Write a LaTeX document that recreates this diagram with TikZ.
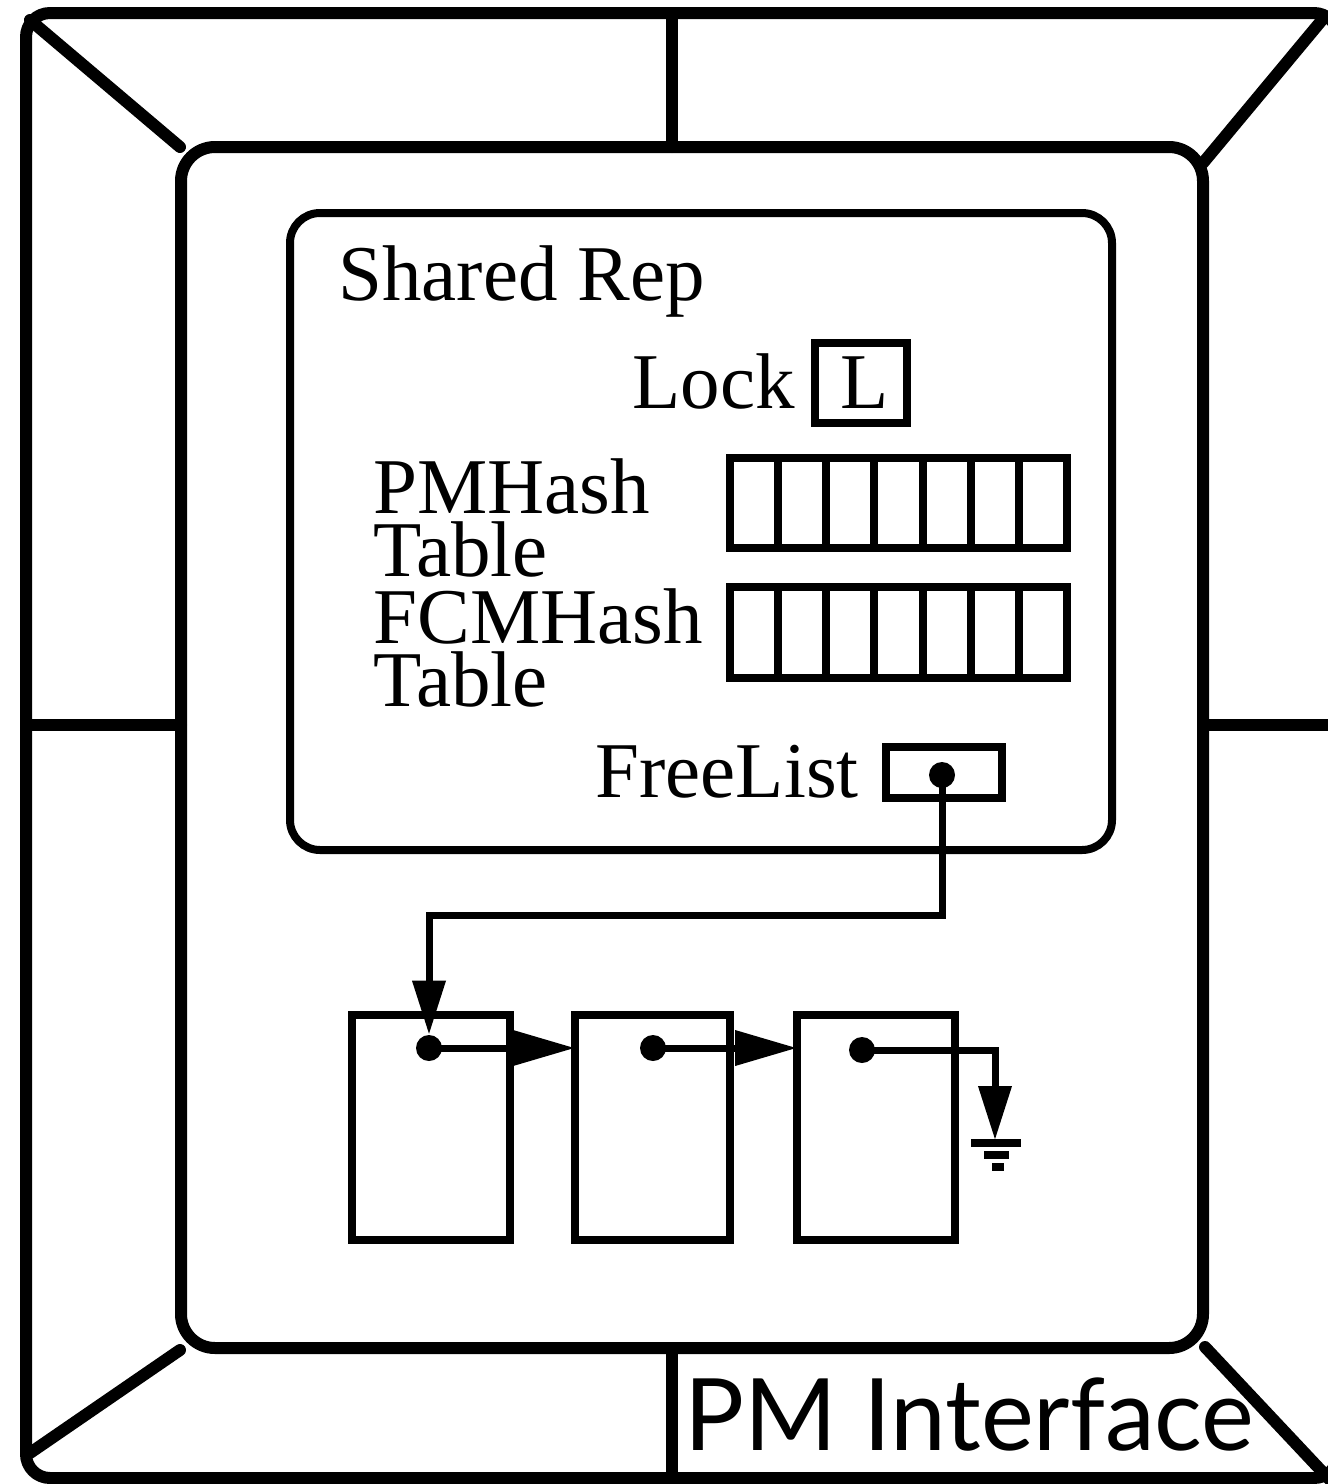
\documentclass[tikz,border=0pt]{standalone}
\usepackage{fontspec}
\setmainfont{Liberation Serif}
\newfontfamily\gillfont{Lato}
\usetikzlibrary{arrows.meta,calc}
\begin{document}
\begin{tikzpicture}[x=0.5pt,y=-0.5pt,
  frame/.style={draw,line width=6pt,line cap=round,line join=round},
  boxln/.style={draw,line width=4pt,inner sep=0pt,outer sep=0pt},
  conn/.style={line width=3.5pt},
  txt/.style={inner sep=0pt,anchor=base west,font=\fontsize{39.5}{40}\selectfont},
  twoline/.style={inner sep=0pt,anchor=north west,align=left,font=\fontsize{39.5}{31.5}\selectfont},
  dotn/.style={circle,fill,inner sep=0pt,minimum size=13pt},
  harrow/.style={-{Triangle[length=31pt,width=17pt]}},
  varrow/.style={-{Triangle[length=27pt,width=16pt]}}
]
\useasboundingbox (0,0) rectangle (1328,1484);
% outer frame
\node[frame,rectangle,rounded corners=12pt,minimum width=656pt,minimum height=732.5pt,inner sep=0pt] (outer) at (682,745.5) {};
% inner box
\node[frame,rectangle,rounded corners=17pt,minimum width=511pt,minimum height=600.5pt,inner sep=0pt] (inner) at (692,747.5) {};
% frame dividers
\draw[frame] (30,20) -- (180,147);
\draw[frame] (1322,20) -- (1203,163);
\draw[frame] (180,1350) -- (30,1453);
\draw[frame] (1205,1347) -- (1330,1480);
\draw[frame] (672,13) -- (672,147);
\draw[frame] (672,1348) -- (672,1478);
\draw[frame] (26,725) -- (181,725);
\draw[frame] (1203,725) -- (1330,725);
% shared rep box
\node[boxln,rectangle,rounded corners=15pt,minimum width=411pt,minimum height=318.5pt] (shared) at (701,531.5) {};
\node[txt] (sharedlbl) at (338,300) {Shared Rep};
\node[txt] (locklbl) at (632,408) {Lock};
\node[boxln,minimum width=46pt,minimum height=40pt] (lockbox) at (861,383) {};
\node[txt] (lockL) at (840,408) {L};
\node[twoline] (pmlbl) at (373,458) {PMHash\\Table};
\node[twoline] (fcmlbl) at (373,588) {FCMHash\\Table};
\node[boxln,minimum width=168.5pt,minimum height=45pt] (pmarr) at (898.5,503) {};
\node[boxln,minimum width=168.5pt,minimum height=45.5pt] (fcmarr) at (898.5,632.5) {};
\foreach \i in {1,...,6}{
  \draw[line width=4pt] ($(pmarr.north west)!\i/7!(pmarr.north east)$) -- ($(pmarr.south west)!\i/7!(pmarr.south east)$);
  \draw[line width=4pt] ($(fcmarr.north west)!\i/7!(fcmarr.north east)$) -- ($(fcmarr.south west)!\i/7!(fcmarr.south east)$);
}
\node[txt] (freelbl) at (595,797) {FreeList};
\node[boxln,minimum width=58pt,minimum height=25.5pt] (freebox) at (944,772.5) {};
\node[dotn] (fdot) at (942,775) {};
% list nodes
\node[boxln,minimum width=79pt,minimum height=112.5pt] (b1) at (431,1127.5) {};
\node[boxln,minimum width=77.5pt,minimum height=112.5pt] (b2) at (652.5,1127.5) {};
\node[boxln,minimum width=79pt,minimum height=112.5pt] (b3) at (876,1127.5) {};
\node[dotn] (d1) at (429,1048) {};
\node[dotn] (d2) at (653,1048) {};
\node[dotn] (d3) at (862,1050) {};
\coordinate (bend) at (942,915);
\coordinate (gnd) at (995,1140);
\draw[conn,varrow] (fdot.center) -- (bend) -| (d1.north);
\draw[conn,harrow] (d1.center) -- (b2.west |- d1);
\draw[conn,harrow] (d2.center) -- (b3.west |- d2);
\draw[conn,varrow] (d3.center) -| (gnd);
% ground symbol
\draw[line width=4pt] ($(gnd)+(-24,3)$) -- ($(gnd)+(26,3)$);
\draw[line width=4pt] ($(gnd)+(-11,15)$) -- ($(gnd)+(14,15)$);
\draw[line width=4pt] ($(gnd)+(-3,27)$) -- ($(gnd)+(9,27)$);
% label
\node[inner sep=0pt,anchor=base west,font=\gillfont\fontsize{50}{52}\selectfont] (pmi) at (684,1450) {PM Interface};
\end{tikzpicture}
\end{document}
